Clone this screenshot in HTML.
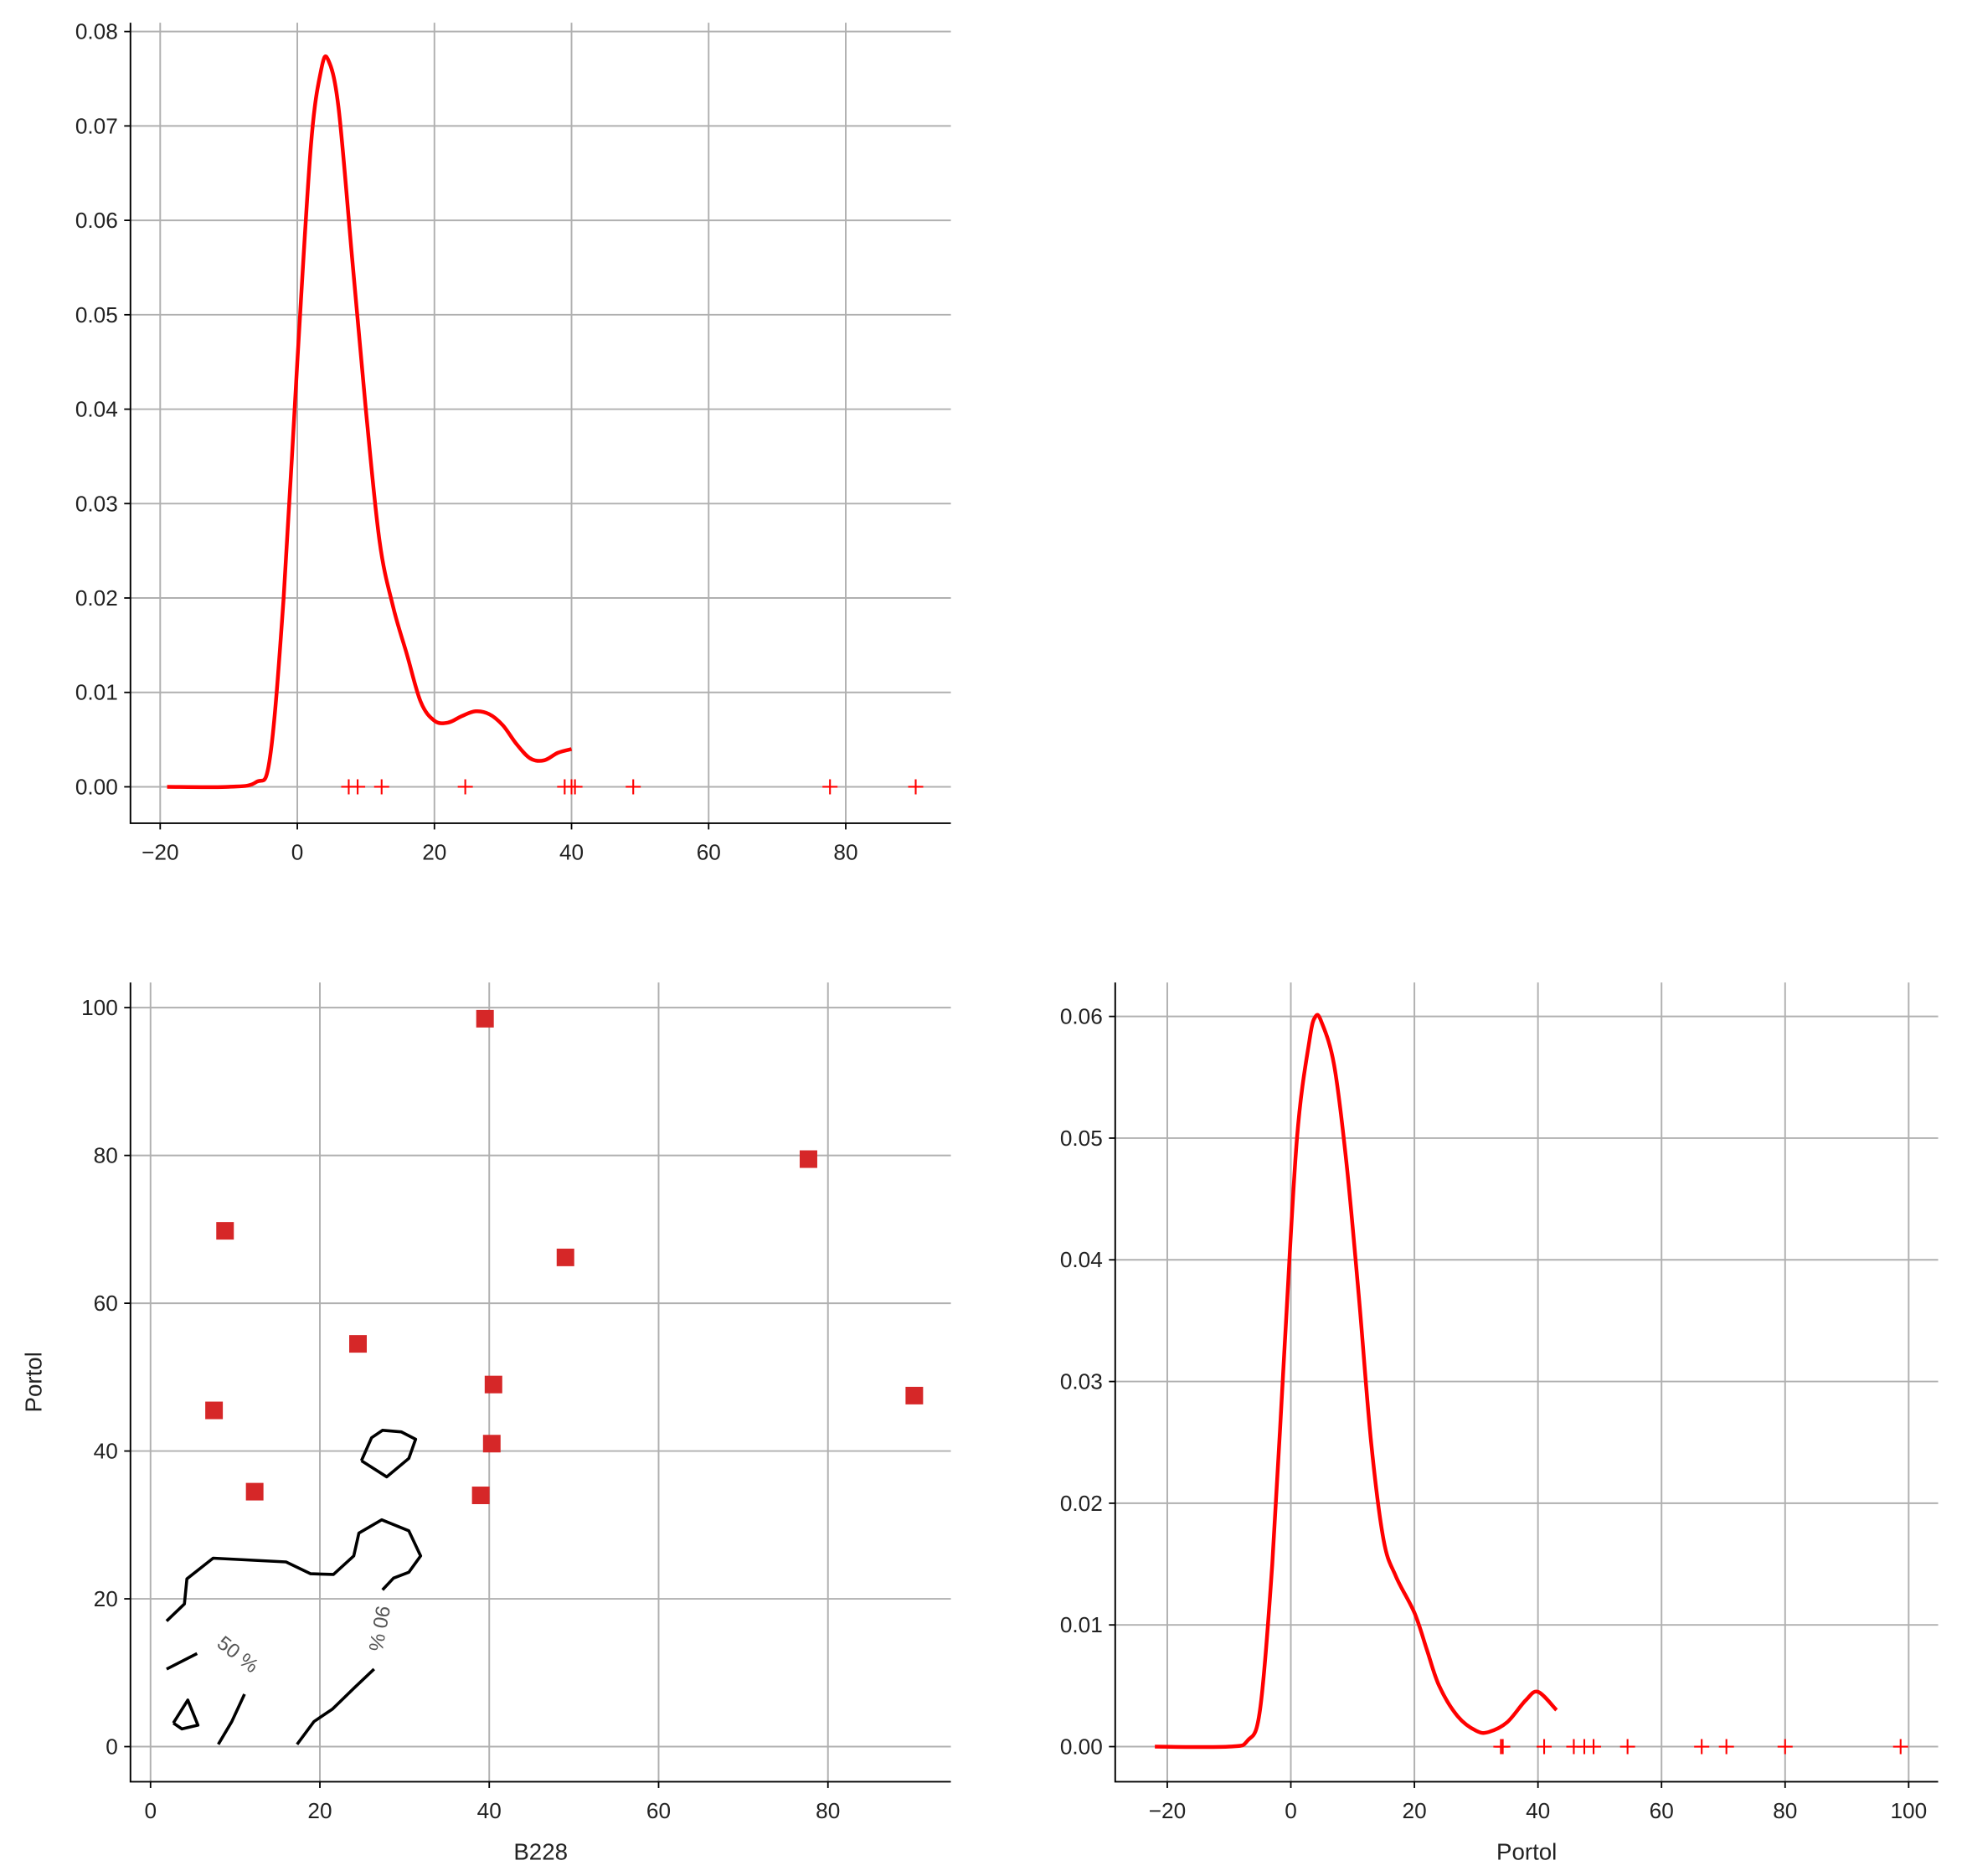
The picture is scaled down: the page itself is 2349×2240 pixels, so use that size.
<!DOCTYPE html>
<html><head><meta charset="utf-8"><style>
html,body{margin:0;padding:0;background:#fff}
svg{display:block;font-family:"Liberation Sans","DejaVu Sans",sans-serif}
</style></head><body>
<svg id="fig" width="2349" height="2240" viewBox="0 0 1568 1495" xmlns="http://www.w3.org/2000/svg"></svg>
<script>
// ---- data ----
const kde1X = [-19,-10,-6,-4,-2,0,2,3.5,4.5,6,8,10,12,14,16,18,20,22,24,26,28,30,32,34,36,38,40];
const kde1Y = [0,0,0.0005,0.003,0.02,0.045,0.068,0.076,0.077,0.072,0.056,0.04,0.026,0.019,0.014,0.009,0.007,0.0068,0.0075,0.008,0.0077,0.0065,0.0045,0.003,0.0028,0.0036,0.004];
const rug1 = [7.5,8.8,12.3,24.5,39,40,40.5,49,77.7,90.2];
const kde2X = [-22,-10,-7,-5,-3,-1,1,3,4,5,7,9,11,13,15,17,20,22,24,27,30,32,35,38,40,43];
const kde2Y = [0,0,0.0005,0.003,0.015,0.033,0.05,0.058,0.06,0.0595,0.056,0.048,0.037,0.025,0.017,0.014,0.011,0.008,0.005,0.0025,0.0013,0.0012,0.002,0.0038,0.0045,0.003];
const rug2 = [34,34.3,41,45.8,47.5,49,54.5,66.5,70.5,80,98.7];
const scatB228 = [39.5,77.7,8.8,49,24.5,40.5,90.2,7.5,40.3,12.3,39];
const scatPortol = [98.5,79.5,69.8,66.2,54.5,49,47.5,45.5,41,34.5,34];
const contourA = [[24.9,38.7],[26.1,41.8],[27.4,42.8],[29.6,42.6],[31.3,41.6],[30.5,39.0],[27.9,36.5],[24.9,38.7]];
const contourB = [[1.9,17.0],[4.0,19.3],[4.3,22.7],[7.4,25.5],[16.0,25.0],[18.9,23.4],[21.6,23.3],[24.0,25.8],[24.6,28.9],[27.3,30.7],[30.5,29.2],[31.9,25.8],[30.5,23.6],[28.7,22.8],[27.4,21.2]];
const contourC = [[17.3,0.3],[19.3,3.4],[21.5,5.1],[24.1,8.0],[26.4,10.5]];
const contourD = [[1.9,10.5],[5.5,12.6]];
const contourE = [[11.1,7.1],[9.6,3.4],[8.0,0.3]];
const contourF = [[2.7,3.2],[4.4,6.3],[5.6,2.9],[3.7,2.4],[2.7,3.2]];
const ticks1X = [-20,0,20,40,60,80];
const ticks1Y = [0,0.01,0.02,0.03,0.04,0.05,0.06,0.07,0.08];
const ticks3X = [0,20,40,60,80];
const ticks3Y = [0,20,40,60,80,100];
const ticks4X = [-20,0,20,40,60,80,100];
const ticks4Y = [0,0.01,0.02,0.03,0.04,0.05,0.06];

const NS="http://www.w3.org/2000/svg";
const svg=document.getElementById('fig');
function mk(tag,attrs,parent){const e=document.createElementNS(NS,tag);for(const k in attrs)e.setAttribute(k,attrs[k]);(parent||svg).appendChild(e);return e;}
function lin(d0,d1,p0,p1){return v=>p0+(v-d0)*(p1-p0)/(d1-d0);}
function minus(s){return s.replace('-','\u2212');}
function smooth(pts){
  let d='M'+pts[0][0].toFixed(1)+','+pts[0][1].toFixed(1);
  for(let i=0;i<pts.length-1;i++){
    const p0=pts[Math.max(0,i-1)],p1=pts[i],p2=pts[i+1],p3=pts[Math.min(pts.length-1,i+2)];
    const c1=[p1[0]+(p2[0]-p0[0])/6,p1[1]+(p2[1]-p0[1])/6];
    const c2=[p2[0]-(p3[0]-p1[0])/6,p2[1]-(p3[1]-p1[1])/6];
    d+=`C${c1[0].toFixed(1)},${c1[1].toFixed(1)} ${c2[0].toFixed(1)},${c2[1].toFixed(1)} ${p2[0].toFixed(1)},${p2[1].toFixed(1)}`;
  }
  return d;
}

function axes(name,box,sx,sy,tx,ty,fmtY,fmtX,xlabel,ylabel){
  const g=mk('g',{});
  
  
  tx.forEach(v=>{const l=mk('line',{x1:sx(v),x2:sx(v),y1:box.t,y2:box.b,stroke:'#b0b0b0','stroke-width':1.3},g);
    
    const k=mk('line',{x1:sx(v),x2:sx(v),y1:box.b,y2:box.b+5,stroke:'#000','stroke-width':1.2},g);
    
    const t=mk('text',{x:sx(v),y:box.b+29,'text-anchor':'middle','font-size':17.5,fill:'#222'},g);t.textContent=minus(fmtX(v));
    });
  ty.forEach(v=>{const l=mk('line',{x1:box.l,x2:box.r,y1:sy(v),y2:sy(v),stroke:'#b0b0b0','stroke-width':1.3},g);
    
    const k=mk('line',{x1:box.l-5,x2:box.l,y1:sy(v),y2:sy(v),stroke:'#000','stroke-width':1.2},g);
    
    const t=mk('text',{x:box.l-10,y:sy(v)+6,'text-anchor':'end','font-size':17.5,fill:'#222'},g);t.textContent=fmtY(v);
    });
  const sp=mk('path',{d:`M${box.l},${box.t}V${box.b}H${box.r}`,fill:'none',stroke:'#000','stroke-width':1.3},g);
  
  if(xlabel){const t=mk('text',{x:(box.l+box.r)/2,y:box.b+62,'text-anchor':'middle','font-size':18.5,fill:'#222'},g);t.textContent=xlabel;
    }
  if(ylabel){const cy=(box.t+box.b)/2;const t=mk('text',{x:33,y:cy,'text-anchor':'middle','font-size':18.5,fill:'#222',transform:`rotate(-90 33 ${cy})`},g);t.textContent=ylabel;
    }
  return g;
}
function curve(g,xs,ys,sx,sy,name){
  const d=smooth(xs.map((x,i)=>[sx(x),sy(ys[i])]));
  const p=mk('path',{d:d,fill:'none',stroke:'#ff0000','stroke-width':3,'stroke-linejoin':'round'},g);
  
}
function rug(g,vals,sx,y0,name){
  vals.forEach(v=>{const p=mk('path',{d:`M${sx(v)-6},${y0}h12M${sx(v)},${y0-6}v12`,stroke:'#ff0000','stroke-width':1.4},g);
    });
}
const f2=v=>v.toFixed(2), f0=v=>String(v);

// top-left: KDE of B228
{const box={l:104,r:758,t:18,b:656};
 const sx=lin(0,20,237,346.3), sy=lin(0,0.01,627,551.75);
 const g=axes('b228-kde-panel',box,sx,sy,ticks1X,ticks1Y,f2,f0,null,null);
 curve(g,kde1X,kde1Y,sx,sy,'b228-kde-curve');
 rug(g,rug1,sx,sy(0),'b228-rug-marker');}

// bottom-left: scatter + contours
{const box={l:104,r:758,t:783,b:1420};
 const sx=lin(0,20,120,255), sy=lin(0,20,1392,1274.2);
 const g=axes('scatter-panel',box,sx,sy,ticks3X,ticks3Y,f0,f0,'B228','Portol');
 [contourA,contourB,contourC,contourD,contourE,contourF].forEach(c=>{
   const d=c.map((p,i)=>(i?'L':'M')+sx(p[0]).toFixed(1)+','+sy(p[1]).toFixed(1)).join('');
   const p=mk('path',{d:d,fill:'none',stroke:'#000','stroke-width':2.4,'stroke-linejoin':'round'},g);
   });
 const l1=mk('text',{x:190,y:1324,'text-anchor':'middle','font-size':16,fill:'#555',transform:'rotate(38 190 1318)'},g);l1.textContent='50 %';
 
 const l2=mk('text',{x:303,y:1304,'text-anchor':'middle','font-size':16,fill:'#555',transform:'rotate(100 303 1298)'},g);l2.textContent='90 %';
 
 scatB228.forEach((x,i)=>{const r=mk('rect',{x:sx(x)-7,y:sy(scatPortol[i])-7,width:14,height:14,fill:'#d62728'},g);
   });}

// bottom-right: KDE of Portol
{const box={l:889,r:1545,t:783,b:1420};
 const sx=lin(0,20,1029,1127.5), sy=lin(0,0.01,1392,1295);
 const g=axes('portol-kde-panel',box,sx,sy,ticks4X,ticks4Y,f2,f0,'Portol',null);
 curve(g,kde2X,kde2Y,sx,sy,'portol-kde-curve');
 rug(g,rug2,sx,sy(0),'portol-rug-marker');}
</script>
</body></html>
